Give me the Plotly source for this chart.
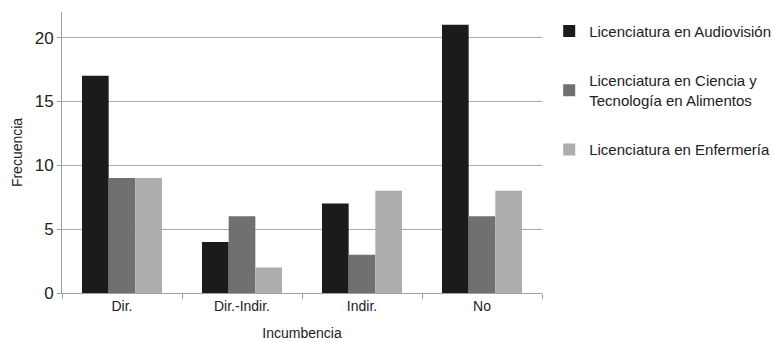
import plotly.graph_objects as go

categorias = ["Dir.", "Dir.-Indir.", "Indir.", "No"]
audiovision = [17, 4, 7, 21]
alimentos = [9, 6, 3, 6]
enfermeria = [9, 2, 8, 8]

series = [
    ("Licenciatura en Audiovisión", audiovision, "#1b1b1b"),
    ("Licenciatura en Ciencia y<br>Tecnología en Alimentos", alimentos, "#707070"),
    ("Licenciatura en Enfermería", enfermeria, "#adadad"),
]

fuente = "Liberation Sans, Arial, sans-serif"

fig = go.Figure()
for i, (nombre, valores, color) in enumerate(series):
    fig.add_trace(go.Bar(
        x=categorias, y=valores, name=nombre,
        marker=dict(color=color, line=dict(width=0)),
        legendgroup=f"g{i}",
    ))

fig.update_layout(
    width=774, height=342,
    margin=dict(l=62, r=232, t=12, b=49, autoexpand=False),
    paper_bgcolor="white", plot_bgcolor="white",
    barmode="group", bargap=0.333, bargroupgap=0,
    font=dict(family=fuente, color="#222", size=14),
    legend=dict(
        x=1.015, y=0.99, xanchor="left", yanchor="top",
        font=dict(family=fuente, size=15, color="#222"),
        tracegroupgap=27, itemwidth=30,
    ),
    showlegend=True,
)

fig.update_yaxes(
    range=[0, 22], tickvals=[0, 5, 10, 15, 20],
    showgrid=True, gridcolor="#a8a8a8", gridwidth=1,
    showline=True, linecolor="#a0a0a0", linewidth=1,
    ticks="outside", ticklen=4, tickcolor="#a0a0a0",
    tickfont=dict(size=17, color="#222"),
    title=dict(text="Frecuencia", font=dict(size=14), standoff=8),
    zeroline=False,
)
fig.update_xaxes(
    showline=True, linecolor="#a0a0a0", linewidth=1,
    ticks="outside", tickson="boundaries", ticklen=5, tickcolor="#a0a0a0",
    tickfont=dict(size=14, color="#222"),
    title=dict(text="Incumbencia", font=dict(size=14), standoff=15),
)

fig.write_html("out.html")
